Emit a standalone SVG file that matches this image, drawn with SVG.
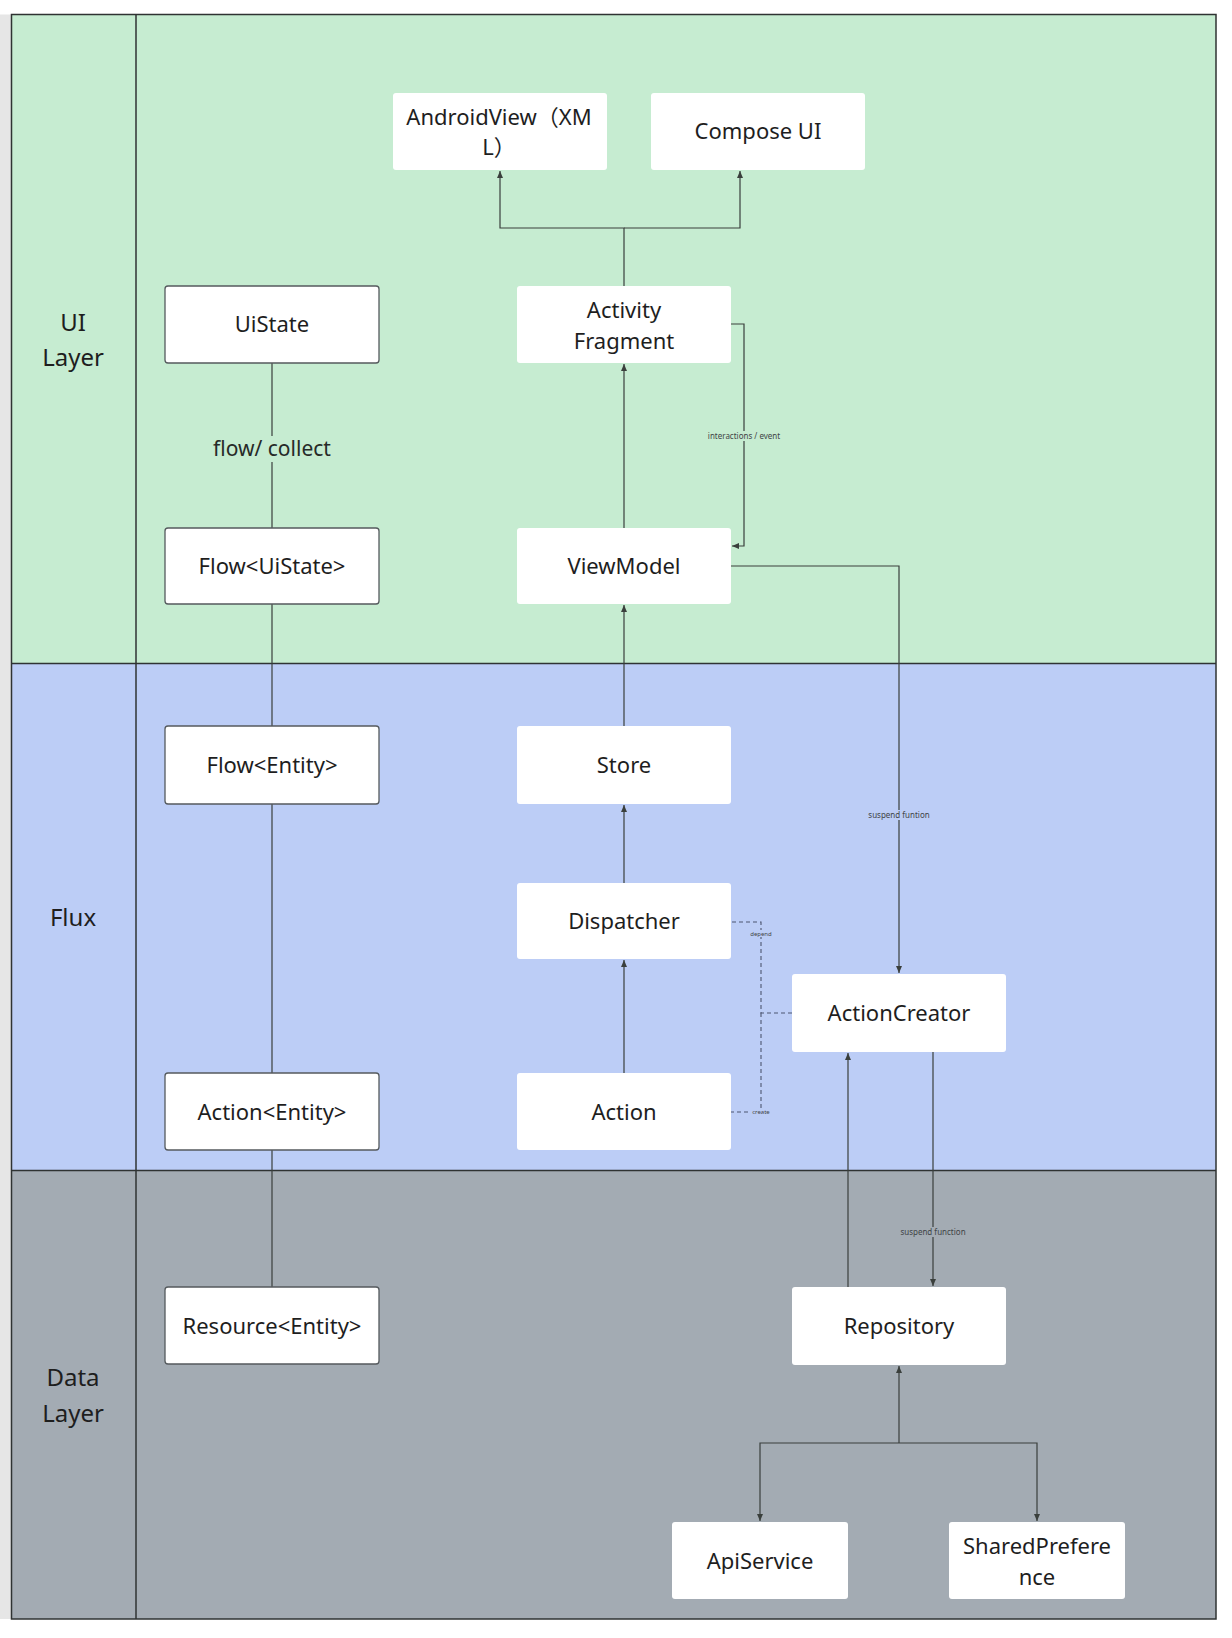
<svg xmlns="http://www.w3.org/2000/svg" width="1232" height="1638" viewBox="0 0 1232 1638">
<style>
.node rect{fill:#ffffff;rx:3;ry:3}
.node.b rect{stroke:#555a5e;stroke-width:1.3}
.node text,.lane text{font-family:"Noto Sans","Noto Sans CJK SC",sans-serif;font-size:22px;fill:#1e1e1e;text-anchor:middle}
.lane text{font-size:24px}
.c{fill:none;stroke:#3a3f3c;stroke-width:1.2}
.d{fill:none;stroke:#4d5670;stroke-width:1.1;stroke-dasharray:4 3}
.lbl{font-family:"Noto Sans",sans-serif;fill:#3f4446;text-anchor:middle}
</style>
<defs>
<marker id="ah" markerUnits="userSpaceOnUse" markerWidth="8" markerHeight="7" refX="7" refY="3" orient="auto">
<path d="M0,0 L7,3 L0,6 z" fill="#3a3f3c"/>
</marker>
</defs>
<rect x="0" y="0" width="1232" height="1638" fill="#ffffff"/>
<rect x="0" y="14.5" width="11.5" height="1604.5" fill="#e6e6e6"/>
<g id="lanes">
<rect x="11.5" y="14.5" width="1204.5" height="649" fill="#c6ecd1"/>
<rect x="11.5" y="663.5" width="1204.5" height="507" fill="#bccdf6"/>
<rect x="11.5" y="1170.5" width="1204.5" height="448.5" fill="#a3abb3"/>
<g stroke="#2f3333" stroke-width="1.5" fill="none">
<rect x="11.5" y="14.5" width="1204.5" height="1604.5"/>
<line x1="11.5" y1="663.5" x2="1216" y2="663.5"/>
<line x1="11.5" y1="1170.5" x2="1216" y2="1170.5"/>
<line x1="136" y1="14.5" x2="136" y2="1619"/>
</g>
</g>
<g id="lane-ui" class="lane"><text x="73" y="331">UI</text><text x="73" y="366">Layer</text></g>
<g id="lane-flux" class="lane"><text x="73" y="926">Flux</text></g>
<g id="lane-data" class="lane"><text x="73" y="1386">Data</text><text x="73" y="1422">Layer</text></g>

<g id="connectors">
<path class="c" d="M624,286 V228 H500 V171" marker-end="url(#ah)"/>
<path class="c" d="M624,228 H740 V171" marker-end="url(#ah)"/>
<path class="c" d="M624,528 V364" marker-end="url(#ah)"/>
<path class="c" d="M731,324 H744 V546 H732" marker-end="url(#ah)"/>
<rect x="708" y="431" width="72" height="10" fill="#c6ecd1"/>
<text class="lbl" x="744" y="439" font-size="8">interactions / event</text>
<path class="c" d="M272,363 V528"/>
<rect x="210" y="436" width="124" height="26" fill="#c6ecd1"/>
<text class="lbl" x="272" y="456" font-size="21" fill="#1e1e1e" style="fill:#262a28">flow/ collect</text>
<path class="c" d="M272,604 V726"/>
<path class="c" d="M272,804 V1073"/>
<path class="c" d="M272,1150 V1287"/>
<path class="c" d="M624,726 V605" marker-end="url(#ah)"/>
<path class="c" d="M624,883 V805" marker-end="url(#ah)"/>
<path class="c" d="M624,1073 V960" marker-end="url(#ah)"/>
<path class="c" d="M731,566 H899 V973" marker-end="url(#ah)"/>
<rect x="868" y="810" width="62" height="10" fill="#bccdf6"/>
<text class="lbl" x="899" y="818" font-size="8">suspend funtion</text>
<path class="c" d="M933,1052 V1286" marker-end="url(#ah)"/>
<rect x="899" y="1227" width="68" height="10" fill="#a3abb3"/>
<text class="lbl" x="933" y="1235" font-size="8">suspend function</text>
<path class="c" d="M848,1287 V1053" marker-end="url(#ah)"/>
<path class="c" d="M899,1443 V1366" marker-end="url(#ah)"/>
<path class="c" d="M899,1443 H760 V1521" marker-end="url(#ah)"/>
<path class="c" d="M899,1443 H1037 V1521" marker-end="url(#ah)"/>
<path class="d" d="M792,1013 H761 V922 H731"/>
<path class="d" d="M761,1013 V1112 H731"/>
<rect x="750" y="930" width="22" height="7" fill="#bccdf6"/>
<text class="lbl" x="761" y="936" font-size="6">depend</text>
<rect x="750" y="1108" width="22" height="7" fill="#bccdf6"/>
<text class="lbl" x="761" y="1114" font-size="6">create</text>
</g>

<g id="n-androidview" class="node"><rect x="393" y="93" width="214" height="77"/><text x="499" y="125">AndroidView（XM</text><text x="499" y="155">L）</text></g>
<g id="n-compose" class="node"><rect x="651" y="93" width="214" height="77"/><text x="758" y="139">Compose UI</text></g>
<g id="n-uistate" class="node b"><rect x="165" y="286" width="214" height="77"/><text x="272" y="332">UiState</text></g>
<g id="n-activity" class="node"><rect x="517" y="286" width="214" height="77"/><text x="624" y="318">Activity</text><text x="624" y="349">Fragment</text></g>
<g id="n-flowuistate" class="node b"><rect x="165" y="528" width="214" height="76"/><text x="272" y="574">Flow&lt;UiState&gt;</text></g>
<g id="n-viewmodel" class="node"><rect x="517" y="528" width="214" height="76"/><text x="624" y="574">ViewModel</text></g>
<g id="n-flowentity" class="node b"><rect x="165" y="726" width="214" height="78"/><text x="272" y="773">Flow&lt;Entity&gt;</text></g>
<g id="n-store" class="node"><rect x="517" y="726" width="214" height="78"/><text x="624" y="773">Store</text></g>
<g id="n-dispatcher" class="node"><rect x="517" y="883" width="214" height="76"/><text x="624" y="929">Dispatcher</text></g>
<g id="n-actioncreator" class="node"><rect x="792" y="974" width="214" height="78"/><text x="899" y="1021">ActionCreator</text></g>
<g id="n-actionentity" class="node b"><rect x="165" y="1073" width="214" height="77"/><text x="272" y="1120">Action&lt;Entity&gt;</text></g>
<g id="n-action" class="node"><rect x="517" y="1073" width="214" height="77"/><text x="624" y="1120">Action</text></g>
<g id="n-resource" class="node b"><rect x="165" y="1287" width="214" height="77"/><text x="272" y="1334">Resource&lt;Entity&gt;</text></g>
<g id="n-repository" class="node"><rect x="792" y="1287" width="214" height="78"/><text x="899" y="1334">Repository</text></g>
<g id="n-apiservice" class="node"><rect x="672" y="1522" width="176" height="77"/><text x="760" y="1569">ApiService</text></g>
<g id="n-sharedpref" class="node"><rect x="949" y="1522" width="176" height="77"/><text x="1037" y="1554">SharedPrefere</text><text x="1037" y="1585">nce</text></g>
</svg>
